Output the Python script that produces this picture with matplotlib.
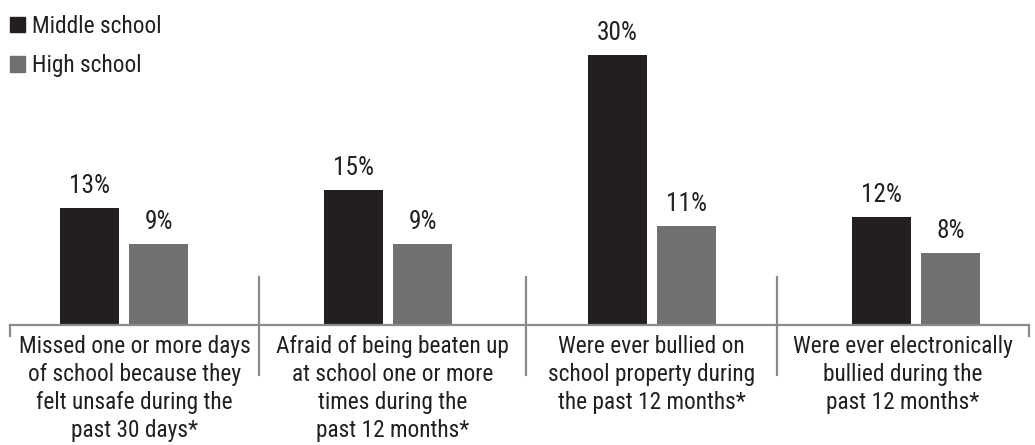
import matplotlib.pyplot as plt
from matplotlib import font_manager
from matplotlib.font_manager import FontProperties
from matplotlib.patches import Patch

categories = [
    'Missed one or more days\nof school because they\nfelt unsafe during the\npast 30 days*',
    'Afraid of being beaten up\nat school one or more\ntimes during the\npast 12 months*',
    'Were ever bullied on\nschool property during\nthe past 12 months*',
    'Were ever electronically\nbullied during the\npast 12 months*',
]
middle_school = [13, 15, 30, 12]
high_school = [9, 9, 11, 8]
series_names = ['Middle school', 'High school']

DARK = '#231f20'
GRAY = '#6f706f'
LINE = '#8a8a8a'


def narrow_font():
    # prefer a condensed face, regular weight
    prefs = ['liberation sans narrow', 'roboto condensed', 'open sans condensed',
             'noto sans condensed', 'dejavu sans condensed']
    cands = []
    for f in font_manager.fontManager.ttflist:
        name = f.name.lower()
        fn = f.fname.lower()
        if f.style != 'normal' or f.weight not in (400, 'normal', 'regular'):
            continue
        if 'bold' in fn or 'oblique' in fn or 'italic' in fn:
            continue
        tag = name + ' ' + fn.replace('-', ' ').replace('_', ' ')
        cond = ('condensed' in tag or 'narrow' in tag or f.stretch == 'condensed'
                or 'semicondensed' in tag)
        if not cond:
            continue
        rank = len(prefs)
        for i, p in enumerate(prefs):
            if p in tag or p.replace(' ', '') in tag.replace(' ', ''):
                rank = i
                break
        cands.append((rank, f.fname))
    if cands:
        cands.sort()
        return FontProperties(fname=cands[0][1])
    return FontProperties(family='DejaVu Sans')


fp = narrow_font()

fig = plt.figure(figsize=(10.35, 4.45), dpi=100)
ax = fig.add_axes([0, 0, 1, 1])

# size the type so the longest first line spans about 232 px
probe = fig.text(0, 0, 'Missed one or more days', fontproperties=fp, fontsize=18)
fig.canvas.draw()
w = probe.get_window_extent().width
probe.remove()
fs = min(18.0, 18.0 * 232.0 / w)
fp.set_size(fs)
fp_val = fp.copy()
fp_val.set_size(fs * 1.08)

# one unit per group is 264 px, one percent is 9 px
px_x = 264.0
px_y = 9.0
ax.set_xlim(-124 / px_x, (1035 - 124) / px_x)
ax.set_ylim(-120 / px_y, 325 / px_y)
ax.axis('off')

width = 59 / px_x
offset = 34.5 / px_x
xs = list(range(len(categories)))

b1 = ax.bar([x - offset for x in xs], middle_school, width, color=DARK)
b2 = ax.bar([x + offset for x in xs], high_school, width, color=GRAY)

for bars, vals in ((b1, middle_school), (b2, high_school)):
    for bar, v in zip(bars, vals):
        ax.text(bar.get_x() + bar.get_width() / 2, v + 1.1, f'{v}%',
                ha='center', va='bottom', fontproperties=fp_val, color=DARK)

# baseline with group dividers
left, right = -114 / px_x, 905 / px_x
dividers = [135 / px_x, 402 / px_x, 653 / px_x]
ax.plot([left, right], [0, 0], color=LINE, lw=1.6, clip_on=False)
for xe in (left, right):
    ax.plot([xe, xe], [0, -1.25], color=LINE, lw=1.6)
for xd in dividers:
    ax.plot([xd, xd], [5.3, -5.6], color=LINE, lw=1.6)

edges = [left] + dividers + [right]
for i, label in enumerate(categories):
    cx = (edges[i] + edges[i + 1]) / 2
    ax.text(cx, -1.1, label, ha='center', va='top', fontproperties=fp,
            color=DARK, linespacing=1.28)

handles = [Patch(color=DARK), Patch(color=GRAY)]
ax.legend(handles, series_names, loc='upper left', bbox_to_anchor=(-0.006, 1.004),
          frameon=False, prop=fp, handlelength=0.65, handleheight=0.65,
          handletextpad=0.3, labelspacing=0.7, borderaxespad=0.3,
          labelcolor=DARK)

fig.savefig('out.png', dpi=100)
